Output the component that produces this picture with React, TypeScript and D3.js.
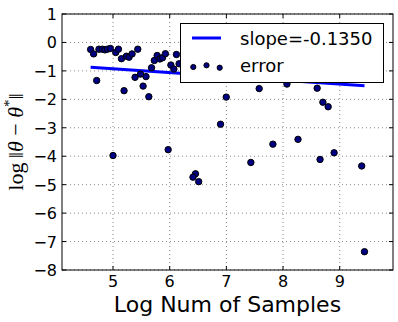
import React from "react";
import * as d3 from "d3";

const xVals = [
  4.605, 4.658, 4.752, 4.812, 4.858, 4.901, 4.954, 5.048, 5.096, 5.149,
  5.237, 5.283, 5.336, 5.437, 5.68, 5.729, 5.779, 5.827, 5.874, 5.924,
  6.021, 6.074, 6.119, 6.166, 4.712, 5.195, 5.389, 5.485, 5.531, 5.582,
  5.632, 6.897, 6.998, 7.579, 8.069, 8.602, 8.703, 8.796, 5.0, 5.973,
  6.455, 6.411, 6.512, 7.432, 7.821, 8.264, 8.653, 8.901, 9.388, 9.437,
];
const yVals = [
  -0.247, -0.403, -0.237, -0.237, -0.261, -0.237, -0.212, -0.353, -0.237, -0.572,
  -0.484, -0.519, -0.403, -0.237, -0.89, -0.633, -0.459, -0.58, -0.537, -0.396,
  -0.795, -0.936, -0.424, -0.749, -1.339, -1.696, -1.226, -1.113, -1.534, -1.201,
  -1.908, -2.876, -1.922, -1.622, -1.463, -1.608, -2.102, -2.261, -3.975, -3.77,
  -4.618, -4.735, -4.894, -4.219, -3.576, -3.406, -4.113, -3.88, -4.343, -7.357,
];
const slope = -0.135;
const intercept = -0.249;
const xTicks = [5, 6, 7, 8, 9];
const yTicks = [-8, -7, -6, -5, -4, -3, -2, -1, 0, 1];
const xDomain = [4.1, 9.94];
const yDomain = [-8, 1];
const lineLabel = "slope=-0.1350";
const pointLabel = "error";
const xLabel = "Log Num of Samples";

const W = 398;
const H = 322;
const L = 62;
const R = 393;
const T = 14;
const B = 270;

export default function App() {
  const x = d3.scaleLinear().domain(xDomain).range([L, R]);
  const y = d3.scaleLinear().domain(yDomain).range([B, T]);
  const xMin = d3.min(xVals) as number;
  const xMax = d3.max(xVals) as number;
  const lineGen = d3
    .line<number>()
    .x((d) => x(d))
    .y((d) => y(intercept + slope * d));
  const fmt = (v: number) => (v < 0 ? "\u2212" + Math.abs(v) : String(v));
  const font = "DejaVu Sans";
  const ptFill = "#000080";

  return (
    <svg
      width={W}
      height={H}
      style={{ position: "absolute", left: 0, top: 0, background: "#fff" }}
      fontFamily={font}
    >
      <rect x={0} y={0} width={W} height={H} fill="#fff" />
      {xTicks.map((t) => (
        <line key={"gx" + t} x1={x(t)} x2={x(t)} y1={T} y2={B} stroke="#888" strokeWidth={1} strokeDasharray="1,3" />
      ))}
      {yTicks.map((t) => (
        <line key={"gy" + t} x1={L} x2={R} y1={y(t)} y2={y(t)} stroke="#888" strokeWidth={1} strokeDasharray="1,3" />
      ))}
      <path d={lineGen([xMin, xMax]) || ""} stroke="#0000ff" strokeWidth={3} fill="none" />
      {xVals.map((v, i) => (
        <circle key={"p" + i} cx={x(v)} cy={y(yVals[i])} r={3.2} fill={ptFill} stroke="#000" strokeWidth={1} />
      ))}
      {xTicks.map((t) => (
        <g key={"tx" + t}>
          <line x1={x(t)} x2={x(t)} y1={B} y2={B - 4} stroke="#000" />
          <line x1={x(t)} x2={x(t)} y1={T} y2={T + 4} stroke="#000" />
          <text x={x(t)} y={287} fontSize={16} textAnchor="middle" fill="#000">
            {fmt(t)}
          </text>
        </g>
      ))}
      {yTicks.map((t) => (
        <g key={"ty" + t}>
          <line x1={L} x2={L + 4} y1={y(t)} y2={y(t)} stroke="#000" />
          <line x1={R} x2={R - 4} y1={y(t)} y2={y(t)} stroke="#000" />
          <text x={57} y={y(t) + 6} fontSize={16} textAnchor="end" fill="#000">
            {fmt(t)}
          </text>
        </g>
      ))}
      <rect x={L} y={T} width={R - L} height={B - T} fill="none" stroke="#000" strokeWidth={1} />
      <rect x={180.5} y={23.5} width={203} height={59} fill="#fff" stroke="#000" strokeWidth={1} />
      <line x1={192} x2={221} y1={38} y2={38} stroke="#0000ff" strokeWidth={3} />
      <text x={240} y={45} fontSize={18} fill="#000">
        {lineLabel}
      </text>
      {[
        [193.3, 67],
        [206.5, 65.3],
        [219.7, 67.7],
      ].map((p, i) => (
        <circle key={"lp" + i} cx={p[0]} cy={p[1]} r={2.6} fill={ptFill} stroke="#000" strokeWidth={1} />
      ))}
      <text x={240} y={72} fontSize={18} fill="#000">
        {pointLabel}
      </text>
      <text x={(L + R) / 2 + 0} y={312} fontSize={22} textAnchor="middle" fill="#000">
        {xLabel}
      </text>
      <text
        transform={`translate(23,${(T + B) / 2}) rotate(-90)`}
        fontSize={22}
        textAnchor="middle"
        fill="#000"
        fontFamily="Liberation Serif"
      >
        <tspan>log</tspan>
        <tspan>{"\u2009\u2016"}</tspan>
        <tspan fontStyle="italic">{"\u03b8"}</tspan>
        <tspan>{" \u2212 "}</tspan>
        <tspan fontStyle="italic">{"\u03b8"}</tspan>
        <tspan fontSize={15} dy={-9}>
          *
        </tspan>
        <tspan dy={9}>{"\u2016"}</tspan>
      </text>
    </svg>
  );
}
